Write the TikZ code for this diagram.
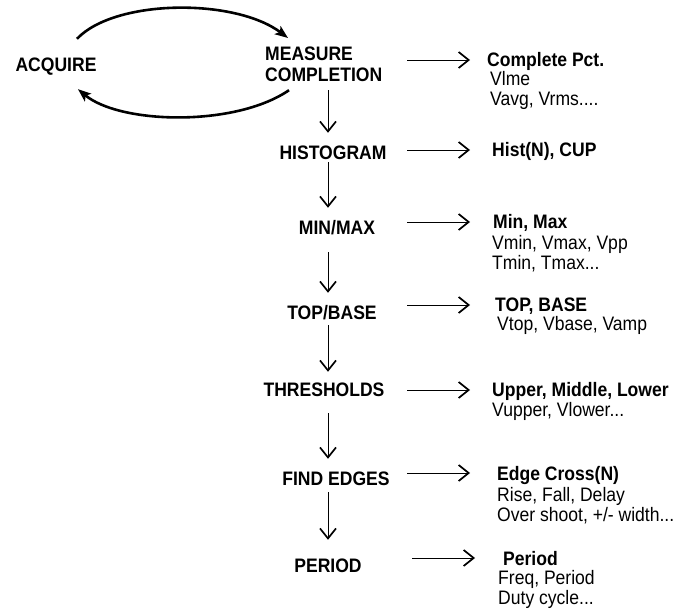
\documentclass[tikz,border=0pt]{standalone}
\usepackage{fontspec}
\setmainfont{Liberation Sans}[FakeStretch=0.9]
\usetikzlibrary{arrows.meta, positioning}

\begin{document}
\begin{tikzpicture}[
    x=1pt, y=-1pt,
    stp/.style={
      inner sep=0pt, text height=14pt, text depth=0pt,
      font=\fontsize{19.5}{21}\selectfont\bfseries
    },
    hd/.style={
      anchor=west, inner sep=0pt, text height=14pt, text depth=0pt,
      font=\fontsize{19.5}{21}\selectfont\bfseries
    },
    det/.style={
      align=left, inner sep=0pt,
      font=\fontsize{19.5}{20}\selectfont
    },
    fl/.style={-{Straight Barb[length=10pt, width=16pt, line width=1.7pt]}, line width=0.7pt},
    cyc/.style={-{Stealth[length=13pt, width=10pt, inset=3pt]}, line width=2.6pt}
  ]
    \useasboundingbox (0,0) rectangle (688,609);

    % --- acquire loop ---
    \node[stp] (acq) at (56,65) {ACQUIRE};
    \node[stp, anchor=north west, align=left, text height=, text depth=] (meas) at (265,47)
      {MEASURE\\COMPLETION};

    \draw[cyc] ([shift={(21,-19)}]acq.north) .. controls +(38,-40) and +(-53,-40)
      .. ([shift={(23,-9)}]meas.north west);
    \draw[cyc] ([shift={(24,8)}]meas.south west) .. controls +(-54,37) and +(42,35)
      .. ([shift={(22,17)}]acq.south);

    % --- steps ---
    \node[stp] (hist) at (333,153) {HISTOGRAM};
    \node[stp] (mm)   at (337,228) {MIN/MAX};
    \node[stp] (tb)   at (332,313) {TOP/BASE};
    \node[stp] (thr)  at (324,390) {THRESHOLDS};
    \node[stp] (edg)  at (336,478) {FIND EDGES};
    \node[stp] (per)  at (328,565) {PERIOD};

    \coordinate (spine) at (328,0);
    \draw[fl, shorten <=8pt,  shorten >=13pt] (meas.south -| spine) -- (hist.north -| spine);
    \draw[fl, shorten <=2pt,  shorten >=13pt] (hist.south -| spine) -- (mm.north -| spine);
    \draw[fl, shorten <=17pt, shorten >=13pt] (mm.south -| spine)   -- (tb.north -| spine);
    \draw[fl, shorten <=5pt,  shorten >=11pt] (tb.south -| spine)   -- (thr.north -| spine);
    \draw[fl, shorten <=16pt, shorten >=12pt] (thr.south -| spine)  -- (edg.north -| spine);
    \draw[fl, shorten <=7pt,  shorten >=18pt] (edg.south -| spine)  -- (per.north -| spine);

    % --- results ---
    \node[hd] (r1) at (487,60)  {Complete Pct.};
    \node[hd] (r2) at (492,150) {Hist(N), CUP};
    \node[hd] (r3) at (493,222) {Min, Max};
    \node[hd] (r4) at (495,305) {TOP, BASE};
    \node[hd] (r5) at (492,390) {Upper, Middle, Lower};
    \node[hd] (r6) at (497,473) {Edge Cross(N)};
    \node[hd] (r7) at (503,558) {Period};

    \node[det, below right=4pt and 3pt of r1.south west] (d1) {Vlme\\Vavg, Vrms....};
    \node[det, below right=6pt and -1pt of r3.south west] (d3) {Vmin, Vmax, Vpp\\Tmin, Tmax...};
    \node[det, below right=4pt and 2pt of r4.south west] (d4) {Vtop, Vbase, Vamp};
    \node[det, below right=5pt and 0pt of r5.south west] (d5) {Vupper, Vlower...};
    \node[det, below right=7pt and 0pt of r6.south west] (d6) {Rise, Fall, Delay\\Over shoot, +/- width...};
    \node[det, below right=5pt and -5pt of r7.south west] (d7) {Freq, Period\\Duty cycle...};

    \coordinate (htail) at (407,0);
    \coordinate (htip)  at (470,0);
    \draw[fl] (htail |- r1) -- (htip |- r1);
    \draw[fl] (htail |- r2) -- (htip |- r2);
    \draw[fl] (htail |- r3) -- (htip |- r3);
    \draw[fl] (htail |- r4) -- (htip |- r4);
    \draw[fl] (htail |- r5) -- (htip |- r5);
    \draw[fl] (htail |- r6) -- (htip |- r6);
    \draw[fl] ([xshift=5pt]htail |- r7) -- ([xshift=5pt]htip |- r7);
  \end{tikzpicture}
\end{document}
